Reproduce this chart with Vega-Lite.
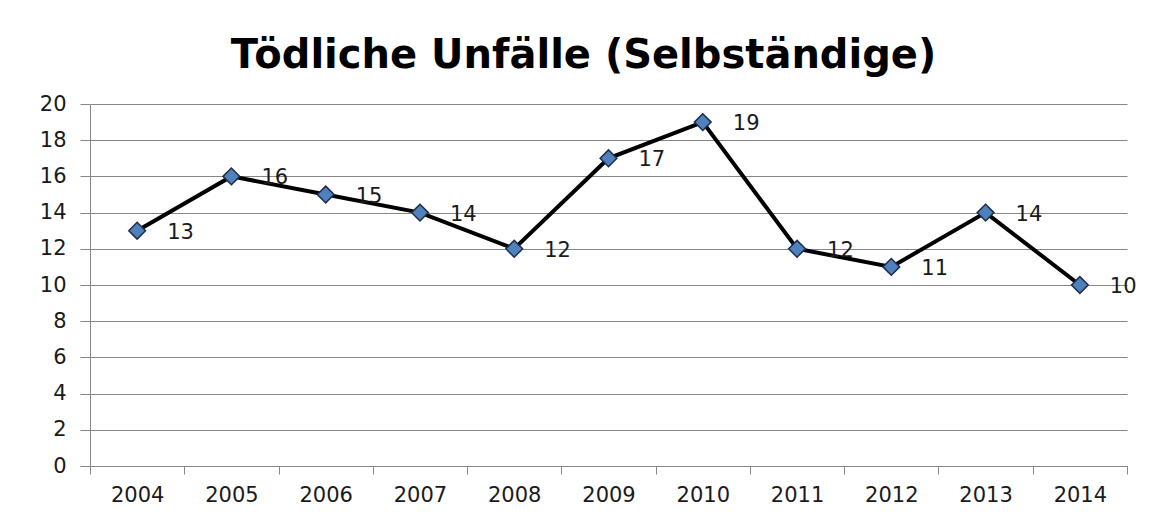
{
  "$schema": "https://vega.github.io/schema/vega-lite/v6.json",
  "autosize": {"type": "none"},
  "width": 1037,
  "height": 362,
  "padding": {"left": 90, "top": 104, "right": 25, "bottom": 51},
  "background": "white",
  "title": {
    "text": "Tödliche Unfälle (Selbständige)",
    "font": "DejaVu Sans",
    "fontSize": 40,
    "fontWeight": "bold",
    "color": "#000000",
    "anchor": "middle",
    "dx": -25,
    "offset": 17
  },
  "data": {
    "values": [
      {"year": "2004", "value": 13},
      {"year": "2005", "value": 16},
      {"year": "2006", "value": 15},
      {"year": "2007", "value": 14},
      {"year": "2008", "value": 12},
      {"year": "2009", "value": 17},
      {"year": "2010", "value": 19},
      {"year": "2011", "value": 12},
      {"year": "2012", "value": 11},
      {"year": "2013", "value": 14},
      {"year": "2014", "value": 10}
    ]
  },
  "config": {
    "view": {"stroke": null},
    "axis": {
      "labelFont": "DejaVu Sans",
      "labelFontSize": 21,
      "labelColor": "#1a1a1a",
      "domainColor": "#868686",
      "tickColor": "#868686",
      "gridColor": "#868686",
      "gridOpacity": 1,
      "title": null
    }
  },
  "encoding": {
    "x": {
      "field": "year",
      "type": "ordinal",
      "scale": {"type": "band", "paddingInner": 0, "paddingOuter": 0},
      "axis": {
        "labelAngle": 0,
        "tickBand": "extent",
        "tickSize": 8,
        "labelPadding": 10,
        "grid": false
      }
    },
    "y": {
      "field": "value",
      "type": "quantitative",
      "scale": {"domain": [0, 20], "nice": false},
      "axis": {
        "values": [0, 2, 4, 6, 8, 10, 12, 14, 16, 18, 20],
        "tickSize": 10,
        "labelPadding": 14,
        "grid": true
      }
    }
  },
  "layer": [
    {
      "mark": {"type": "line", "color": "#000000", "strokeWidth": 4}
    },
    {
      "mark": {"type": "point", "shape": "diamond", "filled": true, "fill": "#4F81BD", "stroke": "#1F2D4A", "strokeWidth": 1.5, "size": 280, "opacity": 1}
    },
    {
      "mark": {"type": "text", "align": "left", "baseline": "middle", "dx": 30, "dy": 2, "font": "DejaVu Sans", "fontSize": 21, "color": "#1a1a1a"},
      "encoding": {"text": {"field": "value", "type": "quantitative"}}
    }
  ]
}
